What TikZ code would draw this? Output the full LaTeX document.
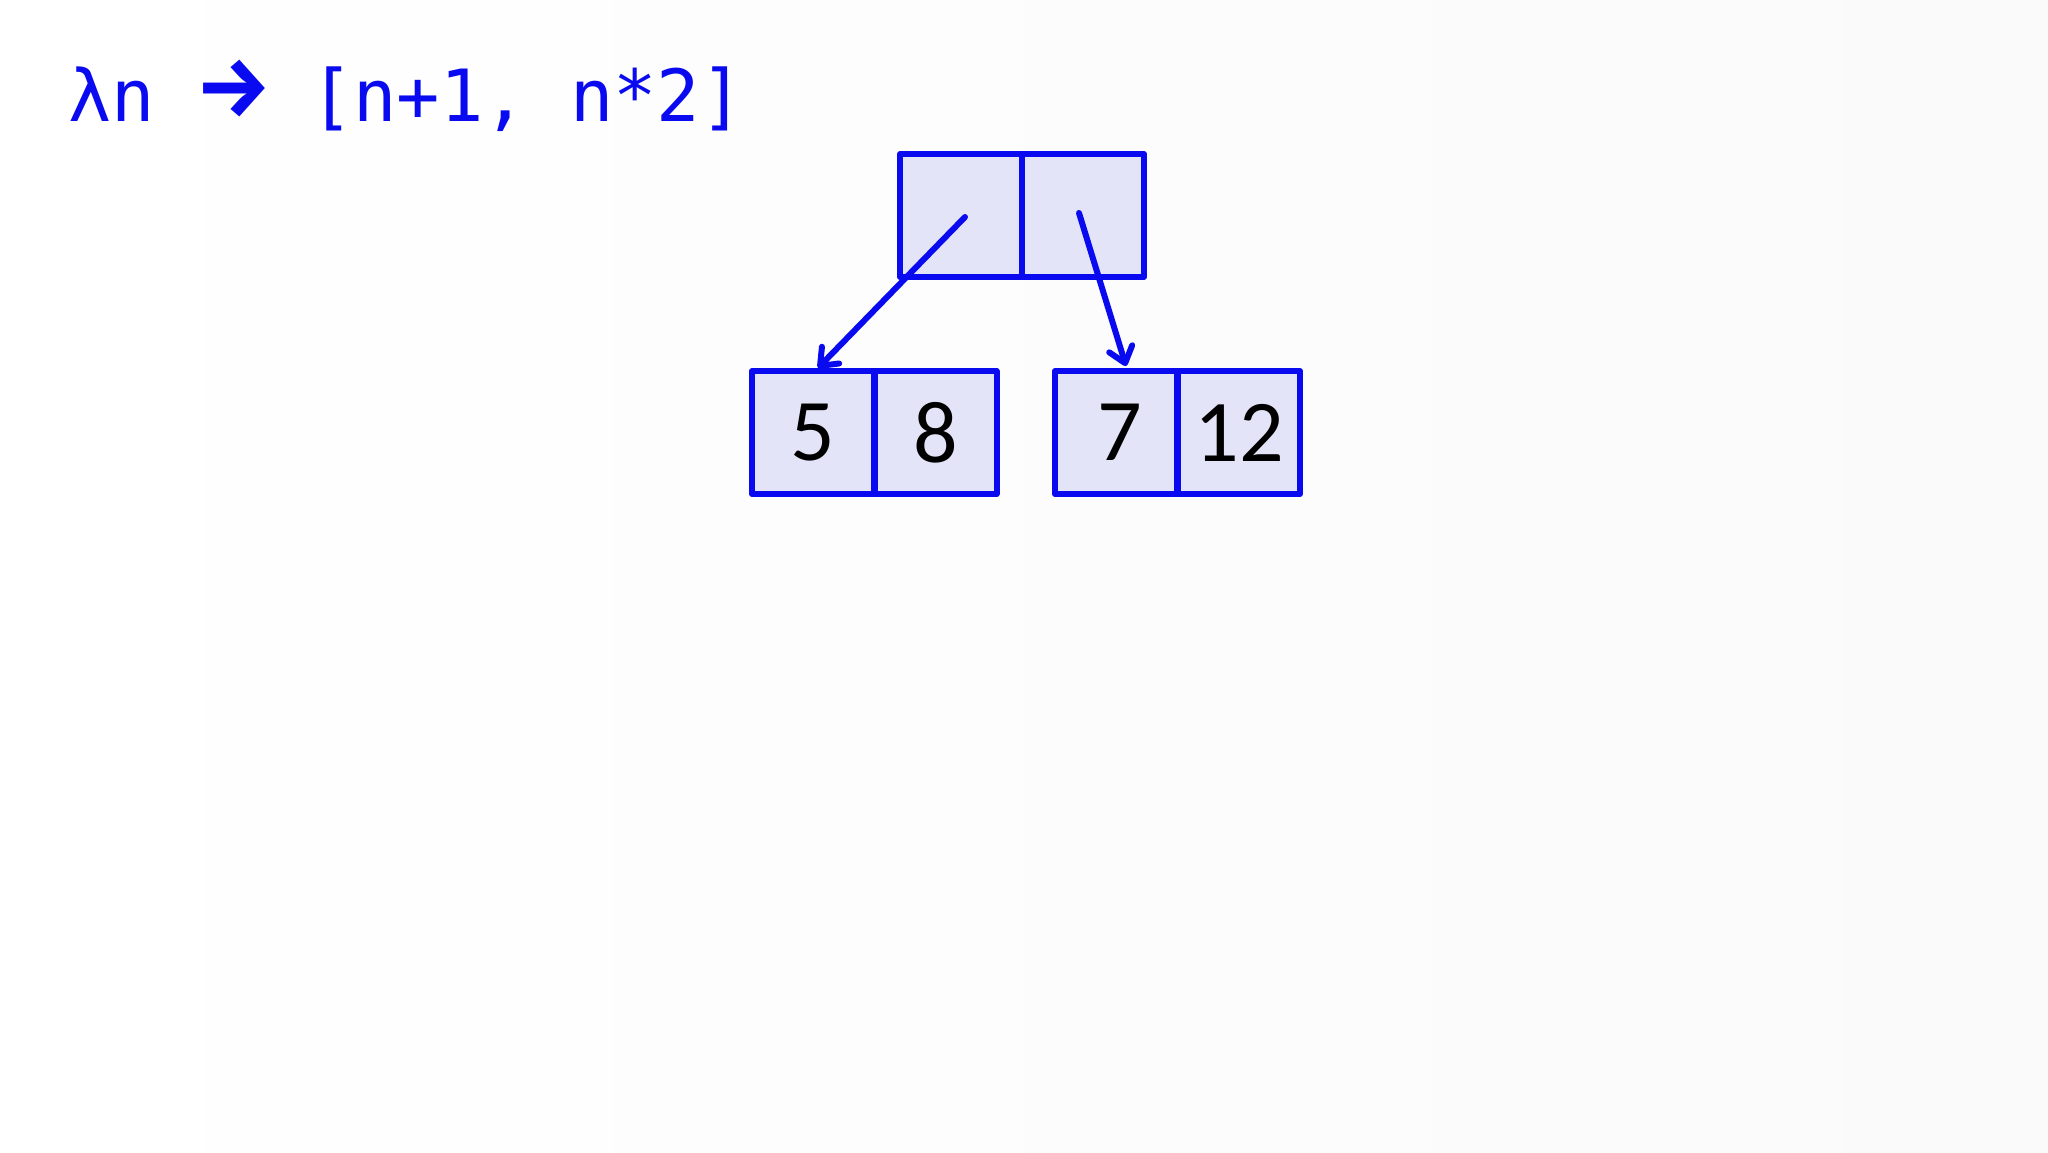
\documentclass[tikz,border=0pt]{standalone}
\usepackage{fontspec}
\usetikzlibrary{arrows.meta}
\newfontfamily\codefont{DejaVu Sans Mono}
\newfontfamily\arrowfont{Fira Sans}
\newfontfamily\numfont{Carlito}
\definecolor{lineblue}{RGB}{10,10,240}
\definecolor{cellfill}{RGB}{228,228,248}
\newcommand{\bigarr}{\makebox[68.5pt][l]{\hspace*{-2.8pt}\raisebox{4.7pt}{\arrowfont\bfseries\fontsize{85}{95}\selectfont →}}}
\begin{document}
\begin{tikzpicture}[x=1pt,y=-1pt,
  cell/.style={draw=lineblue, fill=cellfill, line width=6pt, line join=round,
    minimum width=122pt, minimum height=123pt, inner sep=0pt, outer sep=0pt,
    font=\numfont\fontsize{88}{100}\selectfont, text=black},
  ptr/.style={draw=lineblue, line width=6pt, line cap=round,
    -{Straight Barb[length=15pt,width=24pt,line width=6pt,round]}},
  title/.style={text=lineblue, font=\codefont\fontsize{72}{86}\selectfont, anchor=base west, inner sep=0pt}
]
\useasboundingbox (0,0) rectangle (2048,1152);
\shade[left color=white, right color={rgb,255:red,250;green,250;blue,250}] (0,0) rectangle (2048,1152);

\node[title] (ttl) at (68,121) {λn \bigarr{} [n+1, n*2]};

\node[cell] (t1) at (961,215.5) {};
\node[cell] (t2) at (1083,215.5) {};

\node[cell] (b1) at (813,432.5) {5};
\node[cell] (b2) at (935.5,432.5) {8};
\node[cell] (b3) at (1116,432.5) {\hspace*{8pt}7};
\node[cell] (b4) at (1239,432.5) {12};

\draw[ptr] ([xshift=4pt,yshift=-1.5pt]t1.center) -- ([xshift=5pt,yshift=3pt]b1.north);
\draw[ptr] ([xshift=-4pt,yshift=2.5pt]t2.center) -- ([xshift=10pt,yshift=5pt]b3.north);
\end{tikzpicture}
\end{document}
